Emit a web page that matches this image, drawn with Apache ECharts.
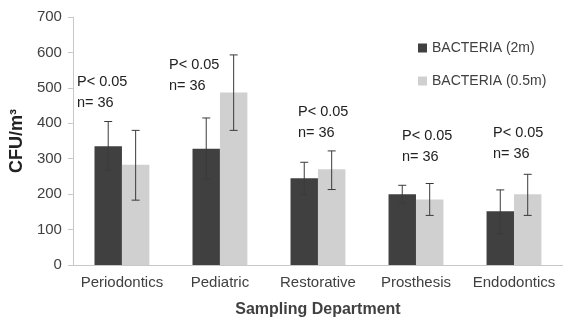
<!DOCTYPE html>
<html><head><meta charset="utf-8">
<script src="https://cdn.jsdelivr.net/npm/echarts@6/dist/echarts.min.js"></script>
<style>html,body{margin:0;padding:0;background:#fff}#c{width:563px;height:323px}</style>
</head><body><div id="c"></div>
<script>
var categories = ['Periodontics','Pediatric','Restorative','Prosthesis','Endodontics'];
var seriesNames = ['BACTERIA (2m)','BACTERIA (0.5m)'];
var bact2m = [335, 328, 245, 200, 152];
var bact05m = [283, 487, 270, 185, 200];
var bact2mHigh = [405, 415, 290, 225, 212];
var bact2mLow = [268, 243, 198, 175, 88];
var bact05mHigh = [380, 593, 322, 230, 256];
var bact05mLow = [183, 380, 213, 140, 140];
var yTicks = [0, 100, 200, 300, 400, 500, 600, 700];
var annoP = 'P< 0.05';
var annoN = 'n= 36';

var FONT = '"Liberation Sans", Arial, sans-serif';
var TXT = '#404040';
var chart = echarts.init(document.getElementById('c'));

function errSeries(high, low, side) {
  var data = categories.map(function (c, i) { return [i, low[i], high[i]]; });
  return {
    type: 'custom', silent: true, z: 10,
    data: data,
    renderItem: function (params, api) {
      var band = api.size([1, 0])[0];
      var off = side * band * 0.14;
      var lo = api.coord([api.value(0), api.value(1)]);
      var hi = api.coord([api.value(0), api.value(2)]);
      var x = lo[0] + off, cap = 4;
      var st = { stroke: '#3a3a3a', lineWidth: 1 };
      return { type: 'group', children: [
        { type: 'line', shape: { x1: x, y1: hi[1], x2: x, y2: lo[1] }, style: st },
        { type: 'line', shape: { x1: x - cap, y1: hi[1], x2: x + cap, y2: hi[1] }, style: st },
        { type: 'line', shape: { x1: x - cap, y1: lo[1], x2: x + cap, y2: lo[1] }, style: st }
      ]};
    }
  };
}

var annoPos = [[77, 74], [169, 57], [298, 104], [402, 128], [493, 125]];
var graphics = [];
annoPos.forEach(function (p) {
  graphics.push({ type: 'text', left: p[0], top: p[1], style: { text: annoP, font: '14.5px ' + FONT, fill: '#222' } });
  graphics.push({ type: 'text', left: p[0], top: p[1] + 21, style: { text: annoN, font: '14.5px ' + FONT, fill: '#222' } });
});

chart.setOption({
  animation: false,
  textStyle: { fontFamily: FONT },
  grid: { left: 70, top: 17, width: 499, height: 251 },
  legend: {
    data: seriesNames, orient: 'vertical', left: 413, top: 36,
    itemWidth: 9, itemHeight: 9, itemGap: 19, icon: 'rect',
    textStyle: { fontSize: 14, color: TXT, fontFamily: FONT }
  },
  xAxis: {
    type: 'category', data: categories,
    axisLine: { lineStyle: { color: '#c8c8c8' } },
    axisTick: { show: false },
    axisLabel: { fontSize: 15, color: TXT, margin: 10, interval: 0 },
    name: 'Sampling Department', nameLocation: 'middle', nameGap: 37,
    nameTextStyle: { fontSize: 16, fontWeight: 'bold', color: TXT }
  },
  yAxis: {
    type: 'value', min: 0, max: 700, interval: 100,
    axisLine: { show: true, lineStyle: { color: '#c8c8c8' } },
    axisTick: { show: true, length: 5, lineStyle: { color: '#c8c8c8' } },
    splitLine: { show: false },
    axisLabel: { fontSize: 15, color: TXT, margin: 11,
      formatter: function (v) { return yTicks.indexOf(v) >= 0 ? String(v) : ''; } },
    name: 'CFU/m³', nameLocation: 'middle', nameGap: 42,
    nameTextStyle: { fontSize: 18, fontWeight: 'bold', color: '#222' }
  },
  series: [
    { name: seriesNames[0], type: 'bar', data: bact2m, barWidth: '28%', barGap: '0%',
      itemStyle: { color: '#404040' } },
    { name: seriesNames[1], type: 'bar', data: bact05m, barWidth: '28%', barGap: '0%',
      itemStyle: { color: '#d0d0d0' } },
    errSeries(bact2mHigh, bact2mLow, -1),
    errSeries(bact05mHigh, bact05mLow, 1)
  ],
  graphic: graphics
});
</script></body></html>
